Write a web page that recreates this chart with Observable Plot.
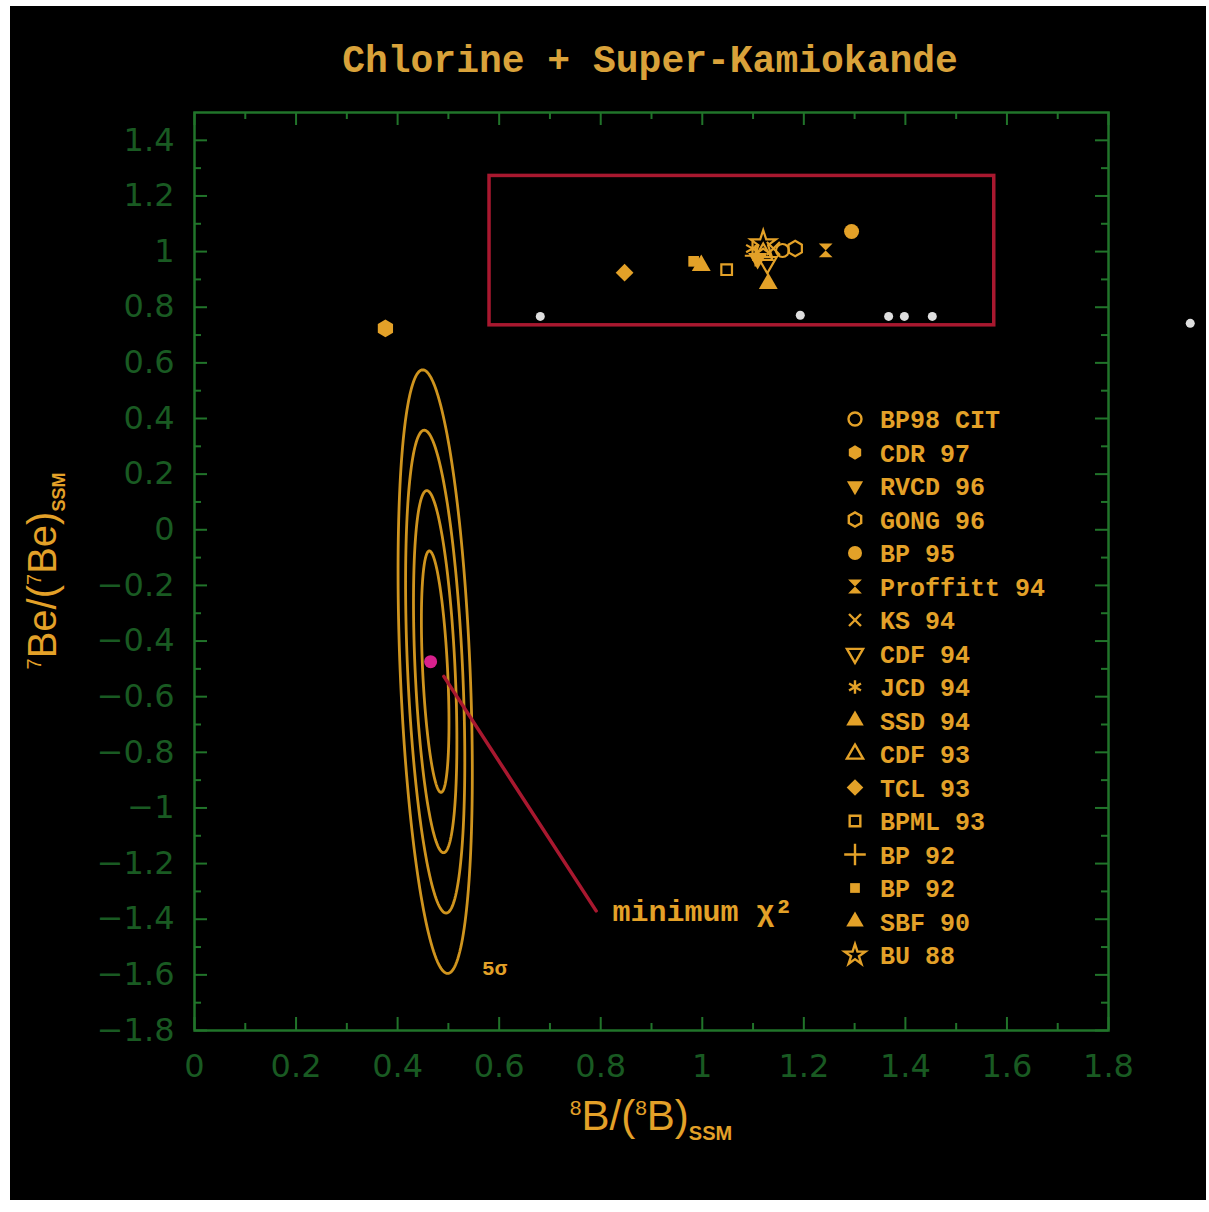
<!DOCTYPE html>
<html><head><meta charset="utf-8">
<script src="https://cdn.jsdelivr.net/npm/d3@7"></script>
<script src="https://cdn.jsdelivr.net/npm/@observablehq/plot@0.6"></script>
<style>
html,body{margin:0;padding:0;background:#fff;}
#page{position:absolute;left:10px;top:6px;width:1196px;height:1194px;background:#000;overflow:hidden;}
#title{height:76px;box-sizing:border-box;padding-top:36px;padding-left:84px;text-align:center;font:bold 38px "Liberation Mono",monospace;line-height:40px;color:#d9a23a;white-space:nowrap;}
#chart svg{display:block;}
</style></head><body>
<div id="page"><div id="title">Chlorine + Super-Kamiokande</div><div id="chart"></div></div>
<script>
// ---------------- data ----------------
const titleText = "Chlorine + Super-Kamiokande";
const xTickValues = [0, 0.2, 0.4, 0.6, 0.8, 1, 1.2, 1.4, 1.6, 1.8];
const xTickLabels = ["0", "0.2", "0.4", "0.6", "0.8", "1", "1.2", "1.4", "1.6", "1.8"];
const xMinorTicks = [0.1, 0.3, 0.5, 0.7, 0.9, 1.1, 1.3, 1.5, 1.7];
const yTickValues = [1.4, 1.2, 1, 0.8, 0.6, 0.4, 0.2, 0, -0.2, -0.4, -0.6, -0.8, -1, -1.2, -1.4, -1.6, -1.8];
const yTickLabels = ["1.4", "1.2", "1", "0.8", "0.6", "0.4", "0.2", "0", "−0.2", "−0.4", "−0.6", "−0.8", "−1", "−1.2", "−1.4", "−1.6", "−1.8"];
const yMinorTicks = [1.3, 1.1, 0.9, 0.7, 0.5, 0.3, 0.1, -0.1, -0.3, -0.5, -0.7, -0.9, -1.1, -1.3, -1.5, -1.7];
const xDomain = [0, 1.8];
const yDomain = [-1.8, 1.5];

// solar model predictions: 8B / (8B)SSM and 7Be / (7Be)SSM
const modelNames = ["BP98 CIT", "CDR 97", "RVCD 96", "GONG 96", "BP 95", "Proffitt 94", "KS 94", "CDF 94", "JCD 94", "SSD 94", "CDF 93", "TCL 93", "BPML 93", "BP 92", "BP 92", "SBF 90", "BU 88"];
const modelB8  = [1.158, 0.376, 1.109, 1.183, 1.294, 1.243, 1.140, 1.128, 1.099, 1.130, 1.120, 0.847, 1.048, 1.105, 0.983, 0.998, 1.120];
const modelBe7 = [1.004, 0.724, 0.975, 1.011, 1.072, 1.004, 1.011, 0.961, 1.011, 0.885, 0.990, 0.924, 0.935, 0.985, 0.965, 0.950, 1.029];

// faint white markers along the bottom of the box
const whiteB8  = [0.681, 1.193, 1.367, 1.398, 1.453, 1.961];
const whiteBe7 = [0.767, 0.771, 0.767, 0.767, 0.767, 0.742];

// highlighted box of models
const boxB8 = [0.581, 1.575];
const boxBe7 = [0.735, 1.272];

// chi2 contours (2,3,4,5 sigma)
const contourSigma = [2, 3, 4, 5];
const contourCenter = [0.474, -0.51];
const contourHalfWidth = [0.0246, 0.0394, 0.0542, 0.0689];
const contourHalfHeight = [0.434, 0.651, 0.868, 1.085];
const contourTilt = [0.0115, 0.0165, 0.0215, 0.0245];

// minimum chi2 and its pointer
const minChi2 = [0.465, -0.474];
const pointerB8 = [0.491, 0.791];
const pointerBe7 = [-0.527, -1.370];
const minLabel = "minimum χ²";
const minLabelPos = [0.823, -1.372];
const sigmaLabel = "5σ";
const sigmaLabelPos = [0.566, -1.577];

// ---------------- styles ----------------
const ORANGE = "#e3a128";
const LINE_ORANGE = "#cf941e";
const GREEN = "#21742a";
const LABEL_GREEN = "#195a22";
const RED = "#a8182f";
const PINK = "#d8208c";

const triDown = {draw(ctx, size) {const r = Math.sqrt(size / 1.3); ctx.moveTo(0, r); ctx.lineTo(-0.866 * r, -0.5 * r); ctx.lineTo(0.866 * r, -0.5 * r); ctx.closePath();}};
const hexagon = {draw(ctx, size) {const r = Math.sqrt(size / 2.6); for (let i = 0; i < 6; i++) {const a = Math.PI / 6 + i * Math.PI / 3; const px = r * Math.cos(a), py = r * Math.sin(a); if (i === 0) ctx.moveTo(px, py); else ctx.lineTo(px, py);} ctx.closePath();}};
const bowtie = {draw(ctx, size) {const r = Math.sqrt(size) / 1.8; ctx.moveTo(-r, -r); ctx.lineTo(r, -r); ctx.lineTo(-r, r); ctx.lineTo(r, r); ctx.closePath();}};
const diamondSq = d3.symbolDiamond2 || d3.symbolDiamond;

const modelStyle = [
  {sym: d3.symbolCircle, filled: false, r: 6.5, lr: 6.5},
  {sym: hexagon, filled: true, r: 8, lr: 6.5},
  {sym: triDown, filled: true, r: 7, lr: 6},
  {sym: hexagon, filled: false, r: 7, lr: 6.5},
  {sym: d3.symbolCircle, filled: true, r: 7.5, lr: 7},
  {sym: bowtie, filled: true, r: 7, lr: 7},
  {sym: d3.symbolTimes, filled: false, r: 6, lr: 5.5},
  {sym: triDown, filled: false, r: 7, lr: 6},
  {sym: d3.symbolAsterisk, filled: false, r: 7, lr: 6.5},
  {sym: d3.symbolTriangle, filled: true, r: 7, lr: 6.5},
  {sym: d3.symbolTriangle, filled: false, r: 7, lr: 6},
  {sym: diamondSq, filled: true, r: 8, lr: 7.5},
  {sym: d3.symbolSquare, filled: false, r: 6, lr: 6},
  {sym: d3.symbolPlus, filled: false, r: 7, lr: 7},
  {sym: d3.symbolSquare, filled: true, r: 6, lr: 5.5},
  {sym: d3.symbolTriangle, filled: true, r: 7, lr: 6.5},
  {sym: d3.symbolStar, filled: false, r: 8, lr: 6.5}
];

// ---------------- layout ----------------
const W = 1196, H = 1118, mL = 184, mR = 98, mT = 30, mB = 170;
const iw = W - mL - mR, ih = H - mT - mB;

// ---------------- derived tables ----------------
const models = modelNames.map((name, i) => ({name, i, x: modelB8[i], y: modelBe7[i]}));
const whites = whiteB8.map((x, i) => ({x, y: whiteBe7[i]}));
const contours = [];
contourSigma.forEach((s, k) => {
  for (let j = 0; j <= 180; j++) {
    const t = (j / 180) * 2 * Math.PI;
    contours.push({
      level: s,
      x: contourCenter[0] + contourHalfWidth[k] * Math.cos(t) - contourTilt[k] * Math.sin(t),
      y: contourCenter[1] + contourHalfHeight[k] * Math.sin(t)
    });
  }
});
const pointer = pointerB8.map((x, i) => ({x, y: pointerBe7[i]}));

const dotMarks = models.map(m => {
  const st = modelStyle[m.i];
  return Plot.dot([m], {
    x: "x", y: "y", symbol: st.sym, r: st.r,
    fill: st.filled ? ORANGE : "none",
    stroke: st.filled ? "none" : ORANGE,
    strokeWidth: 2.2
  });
});

const plot = Plot.plot({
  width: W, height: H,
  marginLeft: mL, marginRight: mR, marginTop: mT, marginBottom: mB,
  x: {domain: xDomain, axis: null},
  y: {domain: yDomain, axis: null},
  style: {background: "transparent", overflow: "visible"},
  marks: [
    // ticks (inward)
    Plot.tickX(xTickValues, {x: d => d, stroke: GREEN, strokeWidth: 2, insetTop: ih - 13}),
    Plot.tickX(xTickValues, {x: d => d, stroke: GREEN, strokeWidth: 2, insetBottom: ih - 13}),
    Plot.tickX(xMinorTicks, {x: d => d, stroke: GREEN, strokeWidth: 2, insetTop: ih - 7}),
    Plot.tickX(xMinorTicks, {x: d => d, stroke: GREEN, strokeWidth: 2, insetBottom: ih - 7}),
    Plot.tickY(yTickValues, {y: d => d, stroke: GREEN, strokeWidth: 2, insetRight: iw - 13}),
    Plot.tickY(yTickValues, {y: d => d, stroke: GREEN, strokeWidth: 2, insetLeft: iw - 13}),
    Plot.tickY(yMinorTicks, {y: d => d, stroke: GREEN, strokeWidth: 2, insetRight: iw - 7}),
    Plot.tickY(yMinorTicks, {y: d => d, stroke: GREEN, strokeWidth: 2, insetLeft: iw - 7}),
    Plot.frame({stroke: GREEN, strokeWidth: 2.5}),
    // tick labels
    Plot.text(xTickValues, {x: d => d, text: (d, i) => xTickLabels[i], frameAnchor: "bottom", dy: 36, fill: LABEL_GREEN, fontSize: 32, fontFamily: "DejaVu Sans", lineAnchor: "middle"}),
    Plot.text(yTickValues, {y: d => d, text: (d, i) => yTickLabels[i], frameAnchor: "left", dx: -20, textAnchor: "end", fill: LABEL_GREEN, fontSize: 32, fontFamily: "DejaVu Sans"}),
    // box
    Plot.rect([{x1: boxB8[0], x2: boxB8[1], y1: boxBe7[0], y2: boxBe7[1]}], {x1: "x1", x2: "x2", y1: "y1", y2: "y2", fill: "none", stroke: RED, strokeWidth: 3.5}),
    // contours
    Plot.line(contours, {x: "x", y: "y", z: "level", stroke: LINE_ORANGE, strokeWidth: 2.8}),
    // pointer
    Plot.line(pointer, {x: "x", y: "y", stroke: RED, strokeWidth: 3.5}),
    Plot.dot([{x: minChi2[0], y: minChi2[1]}], {x: "x", y: "y", r: 6.5, fill: PINK}),
    // white markers
    Plot.dot(whites, {x: "x", y: "y", r: 4.5, fill: "#dedede"}),
    // models
    ...dotMarks,
    // labels
    Plot.text([{x: minLabelPos[0], y: minLabelPos[1]}], {x: "x", y: "y", text: () => minLabel, textAnchor: "start", fill: ORANGE, fontSize: 30, fontWeight: "bold", fontFamily: "Liberation Mono"}),
    Plot.text([{x: sigmaLabelPos[0], y: sigmaLabelPos[1]}], {x: "x", y: "y", text: () => sigmaLabel, textAnchor: "start", fill: ORANGE, fontSize: 21, fontWeight: "bold", fontFamily: "Liberation Mono"})
  ]
});
document.getElementById("chart").appendChild(plot);

// ---------------- axis titles & legend (svg text) ----------------
const svg = d3.select(plot);
// x axis title
const xt = svg.append("text")
  .attr("x", mL + iw / 2).attr("y", mT + ih + 100)
  .attr("text-anchor", "middle")
  .attr("fill", ORANGE).attr("font-family", "Liberation Sans").attr("font-size", 42);
xt.append("tspan").attr("font-size", 21).attr("dy", -15).text("8");
xt.append("tspan").attr("dy", 15).text("B/(");
xt.append("tspan").attr("font-size", 21).attr("dy", -15).text("8");
xt.append("tspan").attr("dy", 15).text("B)");
xt.append("tspan").attr("font-size", 20).attr("font-weight", "bold").attr("dy", 10).text("SSM");

// y axis title
const yt = svg.append("text")
  .attr("transform", `translate(${46},${mT + ih / 2}) rotate(-90)`)
  .attr("text-anchor", "middle")
  .attr("fill", ORANGE).attr("font-family", "Liberation Sans").attr("font-size", 40);
yt.append("tspan").attr("font-size", 20).attr("dy", -15).text("7");
yt.append("tspan").attr("dy", 15).text("Be/(");
yt.append("tspan").attr("font-size", 20).attr("dy", -15).text("7");
yt.append("tspan").attr("dy", 15).text("Be)");
yt.append("tspan").attr("font-size", 18).attr("font-weight", "bold").attr("dy", 9).text("SSM");

// legend
const legendX = 845, legendTop = 337, legendStep = 33.5;
const lg = svg.append("g").attr("text-anchor", "start");
modelNames.forEach((name, i) => {
  const st = modelStyle[i];
  const y = legendTop + i * legendStep;
  lg.append("path")
    .attr("transform", `translate(${legendX},${y})`)
    .attr("d", d3.symbol(st.sym, Math.PI * st.lr * st.lr)())
    .attr("fill", st.filled ? ORANGE : "none")
    .attr("stroke", st.filled ? "none" : ORANGE)
    .attr("stroke-width", 2.4);
  lg.append("text")
    .attr("x", legendX + 25).attr("y", y).attr("dy", "0.36em")
    .attr("text-anchor", "start")
    .attr("fill", ORANGE).attr("font-family", "Liberation Mono").attr("font-weight", "bold").attr("font-size", 25)
    .text(name);
});
</script></body></html>
